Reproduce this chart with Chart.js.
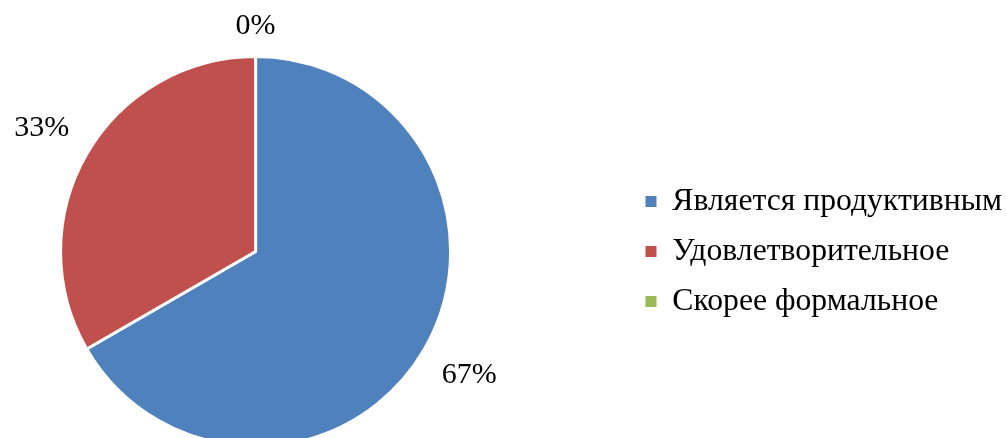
<!DOCTYPE html>
<html>
<head>
<meta charset="utf-8">
<script src="https://cdn.jsdelivr.net/npm/chart.js@4/dist/chart.umd.min.js"></script>
<style>
  html, body { margin: 0; padding: 0; background: #fff; overflow: hidden; }
  #wrap { width: 1007px; height: 438px; position: relative; overflow: hidden; }
  #myChart { position: absolute; left: -116px; top: 0; }
</style>
</head>
<body>
<div id="wrap"><canvas id="myChart" width="1128" height="448"></canvas></div>
<script>
const labels = ['Является продуктивным', 'Удовлетворительное', 'Скорее формальное'];
const values = [2, 1, 0];
const percentLabels = ['67%', '33%', '0%'];
const colors = ['#4F81BD', '#C0504D', '#9BBB59'];

const fontFamily = '"Liberation Serif", "Times New Roman", serif';
const labelSize = 30;
const legendSize = 31.7;

// percent labels outside each slice
const outsideLabels = {
  id: 'outsideLabels',
  afterDatasetsDraw(chart) {
    const ctx = chart.ctx;
    const meta = chart.getDatasetMeta(0);
    ctx.save();
    ctx.font = labelSize + 'px ' + fontFamily;
    ctx.fillStyle = '#000';
    ctx.textAlign = 'center';
    ctx.textBaseline = 'middle';
    meta.data.forEach((arc, i) => {
      const p = arc.getProps(['x', 'y', 'startAngle', 'endAngle', 'outerRadius'], true);
      const mid = (p.startAngle + p.endAngle) / 2;
      const txt = percentLabels[i];
      const w = ctx.measureText(txt).width;
      const cx = Math.cos(mid), cy = Math.sin(mid);
      const d = p.outerRadius + 26 + Math.abs(cx) * w / 2 + Math.abs(cy) * 4;
      ctx.fillText(txt, p.x + cx * d, p.y + cy * d);
    });
    ctx.restore();
  }
};

const ctx = document.getElementById('myChart').getContext('2d');
const myChart = new Chart(ctx, {
  type: 'pie',
  data: {
    labels: labels,
    datasets: [{
      data: values,
      backgroundColor: colors,
      borderColor: '#fff',
      borderWidth: 3,
      hoverOffset: 0
    }]
  },
  options: {
    responsive: false,
    animation: false,
    events: [],
    layout: { padding: { left: 0, top: 55, right: 0, bottom: 0 } },
    plugins: {
      tooltip: { enabled: false },
      legend: {
        position: 'right',
        labels: {
          boxWidth: 11,
          boxHeight: 11,
          padding: 18.3,
          color: '#000',
          font: { family: fontFamily, size: legendSize },
          // plain filled squares, no white slice border
          generateLabels(chart) {
            const items = Chart.overrides.pie.plugins.legend.labels.generateLabels(chart);
            items.forEach(it => { it.lineWidth = 0; });
            return items;
          }
        }
      }
    }
  },
  plugins: [outsideLabels]
});
</script>
</body>
</html>
